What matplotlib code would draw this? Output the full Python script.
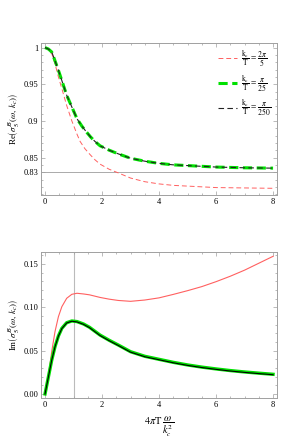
import matplotlib
matplotlib.use("Agg")
import matplotlib.pyplot as plt
from matplotlib.ticker import MultipleLocator, FixedLocator

plt.rcParams['font.family'] = ['Liberation Serif', 'DejaVu Serif']
plt.rcParams['mathtext.fontset'] = 'stix'

# values, x = 4 pi T omega / k_c^2
x_re_red = [0, 0.12, 0.235, 0.35, 0.47, 0.59, 0.76, 0.94, 1.12, 1.23, 1.4, 1.58,
            1.75, 1.93, 2.25, 2.57, 3, 3.5, 4, 4.5, 5, 6, 7, 8]
re_red = [1.0, 0.998, 0.992, 0.978, 0.960, 0.944, 0.921, 0.900, 0.882, 0.872,
          0.862, 0.854, 0.847, 0.841, 0.834, 0.829, 0.822, 0.817, 0.814, 0.812,
          0.811, 0.809, 0.8085, 0.808]
x_re_green = [0, 0.12, 0.235, 0.35, 0.47, 0.59, 0.76, 0.94, 1.12, 1.29, 1.45, 1.6,
              1.75, 1.93, 2.25, 2.57, 3, 3.5, 4, 4.5, 5, 6, 7, 8]
re_green = [1.0, 0.998, 0.994, 0.982, 0.969, 0.955, 0.935, 0.919, 0.903, 0.893,
            0.885, 0.878, 0.872, 0.866, 0.860, 0.855, 0.849, 0.845, 0.842, 0.840,
            0.839, 0.837, 0.836, 0.8355]
re_black = re_green

x_im = [0, 0.12, 0.235, 0.35, 0.47, 0.59, 0.76, 0.94, 1.12, 1.35, 1.56, 1.93,
        2.25, 2.57, 3, 3.5, 4, 4.5, 5, 5.5, 6, 6.5, 7, 7.5, 8]
im_red = [0.0, 0.021, 0.049, 0.072, 0.0893, 0.1008, 0.1105, 0.1151, 0.1163,
          0.1155, 0.1145, 0.1115, 0.1095, 0.108, 0.107, 0.1085, 0.111, 0.115,
          0.1193, 0.124, 0.1297, 0.136, 0.143, 0.151, 0.159]
im_green = [0.0, 0.020, 0.039, 0.0546, 0.067, 0.0758, 0.0823, 0.0843, 0.0836,
            0.0808, 0.077, 0.068, 0.062, 0.0565, 0.0488, 0.0435, 0.040, 0.0365,
            0.0335, 0.031, 0.0289, 0.027, 0.0254, 0.024, 0.0227]
im_black = [0.0, 0.020, 0.039, 0.0545, 0.0668, 0.0755, 0.082, 0.084, 0.0832,
            0.0804, 0.0766, 0.0675, 0.0615, 0.056, 0.0483, 0.043, 0.0395, 0.036,
            0.033, 0.0305, 0.0284, 0.0265, 0.0249, 0.0235, 0.0222]

labels = [r'$\dfrac{\mathrm{k_c}}{\mathrm{T}}\,=\,\dfrac{2\pi}{5}$',
          r'$\dfrac{\mathrm{k_c}}{\mathrm{T}}\,=\,\dfrac{\pi}{25}$',
          r'$\dfrac{\mathrm{k_c}}{\mathrm{T}}\,=\,\dfrac{\pi}{250}$']

red = '#ff6060'
green = '#00e000'
frame = '#a0a0a0'

fig = plt.figure(figsize=(2.83, 4.46), dpi=100)
ax1 = fig.add_axes([0.145, 0.563, 0.834, 0.341])
ax2 = fig.add_axes([0.145, 0.107, 0.834, 0.329])

ax1.plot(x_re_red, re_red, color=red, lw=0.7, dashes=(5, 3), label=labels[0])
ax1.plot(x_re_green, re_green, color=green, lw=2.2, dashes=(3, 1.5), label=labels[1])
ax1.plot(x_re_green, re_black, color='#222222', lw=0.8, dashes=(5, 3), label=labels[2])
ax1.axhline(0.83, color='#aaaaaa', lw=0.7, zorder=0)
ax1.set_xlim(-0.14, 8.14)
ax1.set_ylim(0.799, 1.0065)
ax1.yaxis.set_major_locator(FixedLocator([0.83, 0.85, 0.9, 0.95, 1.0]))
ax1.set_yticklabels(['0.83', '0.85', '0.9', '0.95', '1'])
ax1.yaxis.set_minor_locator(MultipleLocator(0.01))
ax1.set_ylabel(r'Re$\left(\sigma_5^{\mathcal{B}}(\omega,\,k_c)\right)$', fontsize=6.5, labelpad=2)
ax1.legend(loc='upper right', frameon=False, fontsize=5.5, handlelength=2.4,
           labelspacing=0.55, borderaxespad=0.3, handletextpad=0.6)

ax2.plot(x_im, im_red, color=red, lw=0.8)
ax2.plot(x_im, im_green, color=green, lw=2.4)
ax2.plot(x_im, im_black, color='black', lw=0.8)
ax2.axvline(1.0, color='#bbbbbb', lw=0.8, zorder=0)
ax2.set_xlim(-0.14, 8.14)
ax2.set_ylim(-0.005, 0.1645)
ax2.yaxis.set_major_locator(MultipleLocator(0.05))
ax2.yaxis.set_minor_locator(MultipleLocator(0.01))
ax2.yaxis.set_major_formatter(plt.FormatStrFormatter('%.2f'))
ax2.set_ylabel(r'Im$\left(\sigma_5^{\mathcal{B}}(\omega,\,k_c)\right)$', fontsize=6.5, labelpad=2)
ax2.set_xlabel(r'$4\pi\mathrm{T}\,\dfrac{\omega}{k_c^2}$', fontsize=7.5, labelpad=4)

for ax in (ax1, ax2):
    ax.xaxis.set_major_locator(MultipleLocator(2))
    ax.xaxis.set_minor_locator(MultipleLocator(0.5))
    ax.tick_params(which='both', direction='in', top=True, right=True,
                   labelsize=6, color=frame, pad=2)
    ax.tick_params(which='major', length=3, width=0.5)
    ax.tick_params(which='minor', length=1.6, width=0.5)
    for s in ax.spines.values():
        s.set_color(frame)
        s.set_linewidth(0.7)

fig.savefig('out.png', dpi=100)
